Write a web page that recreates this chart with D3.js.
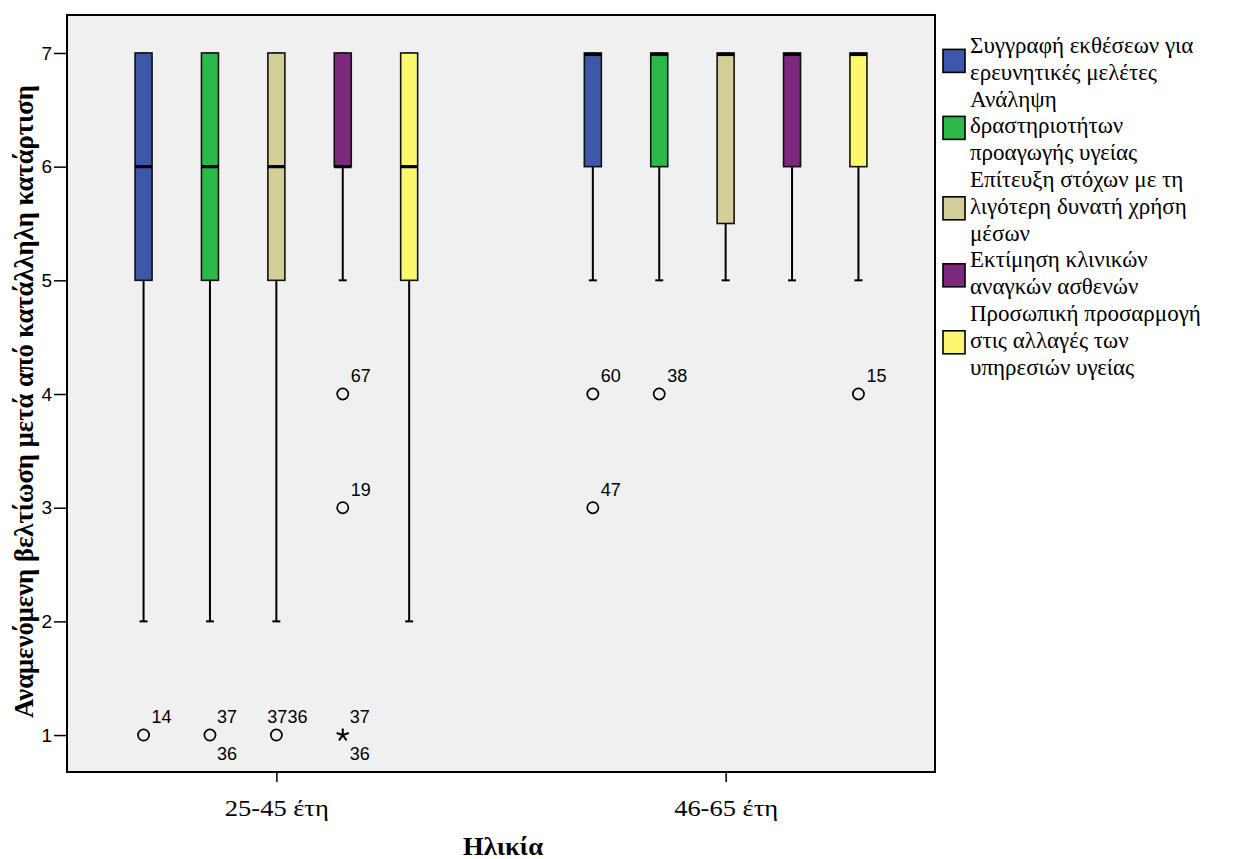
<!DOCTYPE html>
<html>
<head>
<meta charset="utf-8">
<script src="https://cdn.jsdelivr.net/npm/d3@7"></script>
<style>
  body { margin: 0; background: #ffffff; }
  svg { display: block; }
</style>
</head>
<body>
<svg id="chart" width="1244" height="859"></svg>
<script>
// Age groups on the x axis
const groups = ["25-45 έτη", "46-65 έτη"];

// Skills rated (one box per skill within each age group)
const skills = [
  "Συγγραφή εκθέσεων για ερευνητικές μελέτες",
  "Ανάληψη δραστηριοτήτων προαγωγής υγείας",
  "Επίτευξη στόχων με τη λιγότερη δυνατή χρήση μέσων",
  "Εκτίμηση κλινικών αναγκών ασθενών",
  "Προσωπική προσαρμογή στις αλλαγές των υπηρεσιών υγείας"
];

// Legend text broken into lines
const legendLines = [
  ["Συγγραφή εκθέσεων για", "ερευνητικές μελέτες"],
  ["Ανάληψη", "δραστηριοτήτων", "προαγωγής υγείας"],
  ["Επίτευξη στόχων με τη", "λιγότερη δυνατή χρήση", "μέσων"],
  ["Εκτίμηση κλινικών", "αναγκών ασθενών"],
  ["Προσωπική προσαρμογή", "στις αλλαγές των", "υπηρεσιών υγείας"]
];

const skillColors = ["#3d58aa", "#2db84a", "#d4cf98", "#7b287d", "#fbf870"];

const yTicks = [1, 2, 3, 4, 5, 6, 7];

// Box summaries, one row per age group, one entry per skill
const whiskerLow  = [[2, 2, 2, 5, 2], [5, 5, 5, 5, 5]];
const quartile1   = [[5, 5, 5, 6, 5], [6, 6, 5.5, 6, 6]];
const medians     = [[6, 6, 6, 6, 6], [7, 7, 7, 7, 7]];
const quartile3   = [[7, 7, 7, 7, 7], [7, 7, 7, 7, 7]];
const whiskerHigh = [[7, 7, 7, 7, 7], [7, 7, 7, 7, 7]];

// Outlying cases: group index, skill index, value, type, case numbers
const outliers = [
  { g: 0, s: 0, v: 1, type: "outlier", ids: ["14"] },
  { g: 0, s: 1, v: 1, type: "outlier", ids: ["37", "36"] },
  { g: 0, s: 2, v: 1, type: "outlier", ids: ["37", "36"] },
  { g: 0, s: 3, v: 4, type: "outlier", ids: ["67"] },
  { g: 0, s: 3, v: 3, type: "outlier", ids: ["19"] },
  { g: 0, s: 3, v: 1, type: "extreme", ids: ["37", "36"] },
  { g: 1, s: 0, v: 4, type: "outlier", ids: ["60"] },
  { g: 1, s: 0, v: 3, type: "outlier", ids: ["47"] },
  { g: 1, s: 1, v: 4, type: "outlier", ids: ["38"] },
  { g: 1, s: 4, v: 4, type: "outlier", ids: ["15"] }
];

const serif = "'Liberation Serif', 'Times New Roman', serif";
const sans = "Arial, 'Liberation Sans', sans-serif";

const svg = d3.select("#chart");
const plot = { left: 67, right: 935, top: 15, bottom: 772 };

const x = d3.scalePoint().domain(groups).range([plot.left, plot.right]).padding(0.466);
const xs = d3.scaleBand().domain(d3.range(skills.length)).range([-166, 166]);
const y = d3.scaleLinear().domain([0.675, 7.334]).range([plot.bottom, plot.top]);

const boxW = 17, capW = 8;
const cx = (g, s) => x(groups[g]) + xs(s) + xs.bandwidth() / 2;

// Plot background
svg.append("rect")
  .attr("x", plot.left).attr("y", plot.top)
  .attr("width", plot.right - plot.left).attr("height", plot.bottom - plot.top)
  .attr("fill", "#f0f0f0").attr("stroke", "none");

// Boxes
const boxes = [];
groups.forEach((gName, g) => skills.forEach((sName, s) => {
  boxes.push({ g, s, lo: whiskerLow[g][s], q1: quartile1[g][s], med: medians[g][s],
               q3: quartile3[g][s], hi: whiskerHigh[g][s] });
}));

const bx = svg.append("g").selectAll("g").data(boxes).join("g");

// whisker stems
bx.append("line")
  .attr("x1", d => cx(d.g, d.s)).attr("x2", d => cx(d.g, d.s))
  .attr("y1", d => y(d.lo)).attr("y2", d => y(d.q1))
  .attr("stroke", "#000").attr("stroke-width", 2);
bx.append("line")
  .attr("x1", d => cx(d.g, d.s)).attr("x2", d => cx(d.g, d.s))
  .attr("y1", d => y(d.hi)).attr("y2", d => y(d.q3))
  .attr("stroke", "#000").attr("stroke-width", 2);
// whisker caps
bx.append("line")
  .attr("x1", d => cx(d.g, d.s) - capW / 2).attr("x2", d => cx(d.g, d.s) + capW / 2)
  .attr("y1", d => y(d.lo)).attr("y2", d => y(d.lo))
  .attr("stroke", "#000").attr("stroke-width", 2);
bx.append("line")
  .attr("x1", d => cx(d.g, d.s) - capW / 2).attr("x2", d => cx(d.g, d.s) + capW / 2)
  .attr("y1", d => y(d.hi)).attr("y2", d => y(d.hi))
  .attr("stroke", "#000").attr("stroke-width", 1);
// interquartile box
bx.append("rect")
  .attr("x", d => cx(d.g, d.s) - boxW / 2)
  .attr("y", d => y(d.q3))
  .attr("width", boxW)
  .attr("height", d => y(d.q1) - y(d.q3))
  .attr("fill", d => skillColors[d.s])
  .attr("stroke", "#111").attr("stroke-width", 1.6);
// median
bx.append("line")
  .attr("x1", d => cx(d.g, d.s) - boxW / 2).attr("x2", d => cx(d.g, d.s) + boxW / 2)
  .attr("y1", d => y(d.med) + (d.med === d.q3 ? 1.5 : 0))
  .attr("y2", d => y(d.med) + (d.med === d.q3 ? 1.5 : 0))
  .attr("stroke", "#000").attr("stroke-width", 3.2);

// Five-armed star used for extreme cases
const starSymbol = {
  draw(ctx, size) {
    const r = Math.sqrt(size);
    for (let k = 0; k < 5; k++) {
      const a = -Math.PI / 2 + k * 2 * Math.PI / 5;
      ctx.moveTo(0, 0);
      ctx.lineTo(r * Math.cos(a), r * Math.sin(a));
    }
  }
};

const og = svg.append("g").selectAll("g").data(outliers).join("g")
  .attr("transform", d => `translate(${cx(d.g, d.s)},${y(d.v)})`);

og.filter(d => d.type === "outlier").append("circle")
  .attr("r", 5.6).attr("fill", "none").attr("stroke", "#000").attr("stroke-width", 1.7);
og.filter(d => d.type === "extreme").append("path")
  .attr("d", d3.symbol(starSymbol, 42))
  .attr("fill", "none").attr("stroke", "#000").attr("stroke-width", 2);

// Case-number labels: single label up-right; two labels either stacked
// around the marker or run together above it when space is tight
const inlinePair = (d) => d.g === 0 && d.s === 2;
og.each(function (d) {
  const sel = d3.select(this);
  const txt = (t, dx, dy) => sel.append("text")
    .attr("x", dx).attr("y", dy).text(t)
    .attr("font-family", sans)
    .attr("font-size", 18).attr("fill", "#000");
  if (d.ids.length === 1) {
    txt(d.ids[0], 8, -12);
  } else if (inlinePair(d)) {
    txt(d.ids.join(""), -9, -12);
  } else {
    txt(d.ids[0], 7, -12);
    txt(d.ids[1], 7, 25);
  }
});

// Frame on top of the marks
svg.append("rect")
  .attr("x", plot.left).attr("y", plot.top)
  .attr("width", plot.right - plot.left).attr("height", plot.bottom - plot.top)
  .attr("fill", "none").attr("stroke", "#000").attr("stroke-width", 2);

// Y axis
const yAxis = svg.append("g")
  .attr("transform", `translate(${plot.left},0)`)
  .call(d3.axisLeft(y).tickValues(yTicks).tickFormat(d3.format("d")).tickSize(13).tickPadding(2));
yAxis.select(".domain").remove();
yAxis.selectAll(".tick line").attr("stroke", "#000").attr("stroke-width", 1.5);
yAxis.selectAll(".tick text")
  .attr("font-family", sans)
  .attr("font-size", 19).attr("fill", "#000");

// X axis
const xAxis = svg.append("g")
  .attr("transform", `translate(0,${plot.bottom})`)
  .call(d3.axisBottom(x).tickSize(10));
xAxis.select(".domain").remove();
xAxis.selectAll(".tick line").attr("stroke", "#000").attr("stroke-width", 1.5);
xAxis.selectAll(".tick text")
  .attr("y", 44).attr("dy", null)
  .attr("font-family", serif)
  .attr("font-size", 23).attr("fill", "#000")
  .attr("textLength", 104).attr("lengthAdjust", "spacingAndGlyphs");

// Axis titles
svg.append("text")
  .attr("x", 503).attr("y", 855)
  .attr("text-anchor", "middle")
  .attr("font-family", serif)
  .attr("font-weight", "bold").attr("font-size", 25)
  .attr("textLength", 80).attr("lengthAdjust", "spacingAndGlyphs")
  .text("Ηλικία");

svg.append("text")
  .attr("transform", `translate(33,401.5) rotate(-90)`)
  .attr("text-anchor", "middle")
  .attr("font-family", serif)
  .attr("font-weight", "bold").attr("font-size", 27)
  .attr("textLength", 633).attr("lengthAdjust", "spacingAndGlyphs")
  .text("Αναμενόμενη βελτίωση μετά από κατάλληλη κατάρτιση");

// Legend
const lineH = 26.8, firstBase = 53;
let lineIdx = 0;
const legend = svg.append("g");
legendLines.forEach((lines, i) => {
  const bases = lines.map((_, k) => firstBase + (lineIdx + k) * lineH);
  lineIdx += lines.length;
  const mid = d3.mean(bases) - 5;
  legend.append("rect")
    .attr("x", 943).attr("y", mid - 12)
    .attr("width", 22).attr("height", 23)
    .attr("fill", skillColors[i]).attr("stroke", "#000").attr("stroke-width", 1.6);
  lines.forEach((t, k) => {
    legend.append("text")
      .attr("x", 970).attr("y", bases[k])
      .attr("font-family", serif)
      .attr("font-size", 23).attr("fill", "#000")
      .text(t);
  });
});
</script>
</body>
</html>
